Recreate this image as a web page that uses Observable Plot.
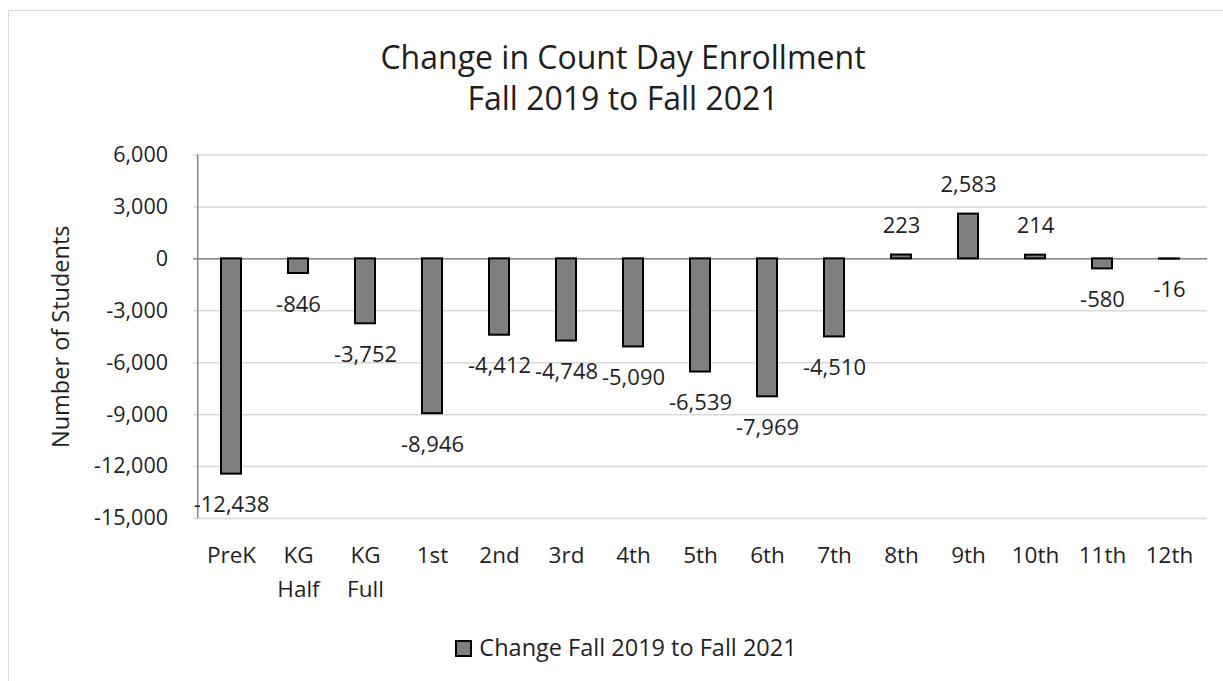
<!DOCTYPE html>
<html>
<head>
<meta charset="utf-8">
<script src="https://cdn.jsdelivr.net/npm/d3@7"></script>
<script src="https://cdn.jsdelivr.net/npm/@observablehq/plot@0.6"></script>
<style>
  html, body { margin: 0; padding: 0; background: #fff; overflow: hidden; }
  #wrap { position: relative; width: 1223px; height: 681px; font-family: "Open Sans", "Noto Sans", sans-serif; color: #1f1f1f; }
  #frame { position: absolute; left: 8px; top: 10px; width: 1240px; height: 700px; border: 1.5px solid #d9d9d9; box-sizing: border-box; }
  #title { position: absolute; left: 0; top: 36px; width: 1246px; text-align: center; font-size: 32px; line-height: 41px; }
  #chart { position: absolute; left: 0; top: 0; }
  #legend { position: absolute; left: 0; top: 631px; width: 1252px; text-align: center; font-size: 23.5px; line-height: 32px; white-space: nowrap; }
  #legend .sw { display: inline-block; width: 13px; height: 13px; background: #7f7f7f; border: 2px solid #000; vertical-align: -1px; margin-right: 7px; }
</style>
</head>
<body>
<div id="wrap">
  <div id="frame"></div>
  <div id="chart"></div>
  <div id="title">Change in Count Day Enrollment<br>Fall 2019 to Fall 2021</div>
  <div id="legend"><span class="sw"></span>Change Fall 2019 to Fall 2021</div>
</div>
<script>
const categories = ["PreK", "KG\nHalf", "KG\nFull", "1st", "2nd", "3rd", "4th", "5th", "6th", "7th", "8th", "9th", "10th", "11th", "12th"];
const values = [-12438, -846, -3752, -8946, -4412, -4748, -5090, -6539, -7969, -4510, 223, 2583, 214, -580, -16];
const yTicks = [6000, 3000, 0, -3000, -6000, -9000, -12000, -15000];
const yLabel = "Number of Students";

const data = categories.map((c, i) => ({cat: c, value: values[i]}));
const fmt = v => v.toLocaleString("en-US");

const W = 1223, H = 681;
const ml = 193.5, mr = 16, mt = 154.5, mb = H - 518;
const bandStep = (W - ml - mr) / categories.length;

const chart = Plot.plot({
  width: W,
  height: H,
  marginLeft: ml,
  marginRight: mr,
  marginTop: mt,
  marginBottom: mb,
  style: {fontFamily: "'Open Sans', 'Noto Sans', sans-serif", fontSize: "21.5px", color: "#1f1f1f", background: "transparent"},
  x: {domain: categories, paddingInner: 0.70, paddingOuter: 0.35, label: null},
  y: {domain: [-15000, 6000], label: null},
  marks: [
    Plot.gridY(yTicks, {stroke: "#d9d9d9", strokeOpacity: 1, strokeWidth: 1.5}),
    Plot.ruleX([categories[0]], {dx: -bandStep / 2, stroke: "#868686", strokeWidth: 1.5}),
    Plot.ruleY([0], {stroke: "#868686", strokeWidth: 1.5}),
    Plot.barY(data, {x: "cat", y: "value", fill: "#7f7f7f", stroke: "#000", strokeWidth: 2}),
    Plot.text(data.filter(d => d.value < 0), {x: "cat", y: "value", text: d => fmt(d.value), dy: 31, fontSize: 22, fill: "#1f1f1f"}),
    Plot.text(data.filter(d => d.value >= 0), {x: "cat", y: "value", text: d => fmt(d.value), dy: -29, fontSize: 22, fill: "#1f1f1f"}),
    Plot.axisY(yTicks, {tickSize: 0, tickPadding: 26, tickFormat: fmt, fontSize: 21.5, label: null}),
    Plot.axisY({tickSize: 0, ticks: [], label: yLabel, labelAnchor: "center", labelOffset: 142, labelArrow: "none", fontSize: 23.5}),
    Plot.axisX({tickSize: 0, tickPadding: 21, fontSize: 22.5, lineHeight: 1.5, label: null})
  ]
});
document.getElementById("chart").appendChild(chart);
</script>
</body>
</html>
